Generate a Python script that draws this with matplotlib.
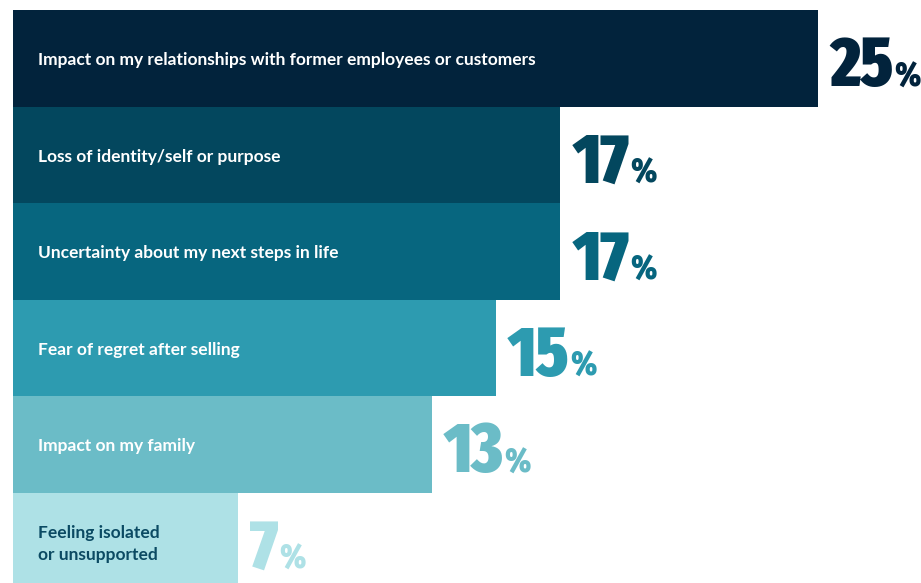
import os
import re
import matplotlib
matplotlib.use("Agg")
import matplotlib.pyplot as plt
from matplotlib import font_manager
from matplotlib.font_manager import FontProperties

# survey shares, top bar first
labels = [
    "Impact on my relationships with former employees or customers",
    "Loss of identity/self or purpose",
    "Uncertainty about my next steps in life",
    "Fear of regret after selling",
    "Impact on my family",
    "Feeling isolated\nor unsupported",
]
values = [25, 17, 17, 15, 13, 7]
bar_colors = ["#02233c", "#03475e", "#07667f", "#2d9bb0", "#6bbcc7", "#aee1e6"]
text_colors = ["white", "white", "white", "white", "white", "#0b4a63"]

W, H, DPI = 921, 583, 100
px_per_unit = 805 / 25.0   # horizontal pixels per percentage point
row_px = 96.5              # vertical pixels per bar


def pick_font(candidates):
    names = {f.name for f in font_manager.fontManager.ttflist}
    for c in candidates:
        if c in names:
            return c
    return "DejaVu Sans"


def narrow_heavy_font():
    # look for the narrowest, heaviest upright face for the big numbers
    best, best_score = None, -1
    for f in font_manager.fontManager.ttflist:
        if f.style != "normal":
            continue
        fn = os.path.basename(f.fname).lower()
        if "italic" in fn or "oblique" in fn or re.search(r"it\.(ttf|otf|ttc)$", fn):
            continue
        key = (fn + f.name.lower()).replace("-", "").replace(" ", "").replace("_", "")
        score = 0
        if "extracondensed" in key or "ultracondensed" in key:
            score += 40
        elif "semicondensed" in key:
            score += 10
        elif "condensed" in key or "narrow" in key:
            score += 25
        else:
            continue
        w = f.weight if isinstance(f.weight, int) else 400
        score += min(w, 900) / 100.0
        if score > best_score:
            best, best_score = f, score
    if best is None:
        return FontProperties(family="DejaVu Sans", weight="bold")
    return FontProperties(fname=best.fname)


label_font = pick_font(["Lato", "Inter", "Roboto", "DejaVu Sans"])
num_fp = narrow_heavy_font()

fig = plt.figure(figsize=(W / DPI, H / DPI), dpi=DPI)
ax = fig.add_axes([0, 0, 1, 1])
ax.set_xlim(-13 / px_per_unit, (W - 13) / px_per_unit)
top = -0.5 - 10 / row_px
ax.set_ylim(top + H / row_px, top)
ax.axis("off")

y = list(range(len(values)))
ax.barh(y, values, height=1.0, color=bar_colors, edgecolor="none")

for i, lab in enumerate(labels):
    # baseline of the last line sits a little below the bar centre
    yy = i + 7 / row_px if "\n" not in lab else i + 19 / row_px
    ax.text(25 / px_per_unit, yy, lab, color=text_colors[i], fontsize=12.5,
            fontweight="bold", family=label_font, va="baseline", ha="left",
            linespacing=1.45)

renderer = fig.canvas.get_renderer()
inv = ax.transData.inverted()
base = 28 / row_px
for i, v in enumerate(values):
    x0 = v + 12 / px_per_unit
    fp = num_fp.copy()
    fp.set_size(50)
    num = ax.text(x0, i + base, str(v), color=bar_colors[i],
                  fontproperties=fp, va="baseline", ha="left")
    bb = num.get_window_extent(renderer)
    xr = inv.transform((bb.x1 + 1, 0))[0]
    fp2 = num_fp.copy()
    fp2.set_size(25)
    ax.text(xr, i + base, "%", color=bar_colors[i], fontproperties=fp2,
            va="baseline", ha="left")

fig.savefig("out.png", dpi=DPI)
